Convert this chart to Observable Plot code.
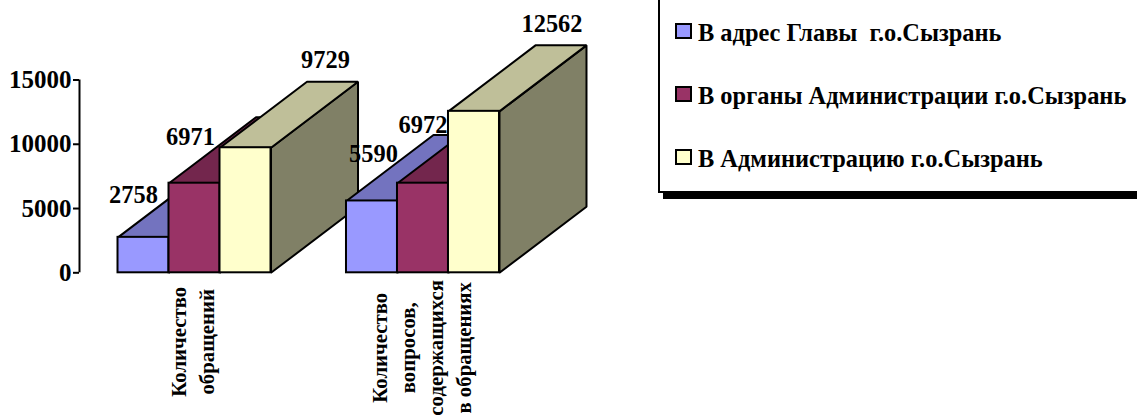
<!DOCTYPE html>
<html lang="ru">
<head>
<meta charset="utf-8">
<script src="https://cdn.jsdelivr.net/npm/d3@7"></script>
<script src="https://cdn.jsdelivr.net/npm/@observablehq/plot@0.6"></script>
<style>
  html, body { margin: 0; padding: 0; background: #fff; overflow: hidden; }
  #wrap { position: relative; width: 1137px; height: 418px; overflow: hidden; font-family: "Liberation Serif", serif; font-weight: bold; color: #000; }
  #wrap svg { display: block; }
  .frame { position: absolute; left: 658px; top: -10px; width: 500px; height: 199px; border: 2px solid #000; background: #fff; box-shadow: 5px 6px 0 #000; }
  .sw { position: absolute; left: 675px; width: 13px; height: 12px; border: 2px solid #000; }
  .lt { position: absolute; left: 698px; font-size: 24.4px; line-height: 28px; white-space: pre; }
</style>
</head>
<body>
<div id="wrap"></div>
<script>
const categories = ["Количество\nобращений", "Количество\nвопросов,\nсодержащихся\nв обращениях"];
const seriesNames = ["В адрес Главы  г.о.Сызрань", "В органы Администрации г.о.Сызрань", "В Администрацию г.о.Сызрань"];
const toGlava = [2758, 5590];
const toOrgans = [6971, 6972];
const toAdmin = [9729, 12562];
const yTicks = [0, 5000, 10000, 15000];

// styling and layout, kept apart from the values
const frontColors = ["#9999FF", "#993366", "#FFFFCC"];
const topColors = ["#7373BF", "#73264D", "#BFBF99"];
const sideColors = ["#4C4C80", "#4D1A33", "#808066"];
const groupStart = [0.755, 5.235];   // in bar widths from the axis
const depthX = 1.706;                // in bar widths
const depthY = 5135;                 // in value units
const labelShift = [
  [[-10, -42], [1.5, -47]],
  [[-4, -46], [0, -58]],
  [[80, -88], [78, -87]]
];

const series = [toGlava, toOrgans, toAdmin];
const marks = [];
const face = (pts, fill) => Plot.line(pts, {
  x: "x", y: "y", curve: "linear-closed", fill, stroke: "#000", strokeWidth: 2, strokeLinejoin: "miter"
});

categories.forEach((_, g) => {
  series.forEach((vals, s) => {
    const x0 = groupStart[g] + s, x1 = x0 + 1, v = vals[g];
    marks.push(face([{x: x1, y: 0}, {x: x1 + depthX, y: depthY}, {x: x1 + depthX, y: v + depthY}, {x: x1, y: v}], sideColors[s]));
    marks.push(face([{x: x0, y: v}, {x: x1, y: v}, {x: x1 + depthX, y: v + depthY}, {x: x0 + depthX, y: v + depthY}], topColors[s]));
    marks.push(Plot.rect([{x1: x0, x2: x1, y1: 0, y2: v}], {
      x1: "x1", x2: "x2", y1: "y1", y2: "y2", fill: frontColors[s], stroke: "#000", strokeWidth: 2
    }));
  });
});

series.forEach((vals, s) => {
  vals.forEach((v, g) => {
    const [dx, dy] = labelShift[s][g];
    marks.push(Plot.text([v], {
      x: () => groupStart[g] + s + 0.5, y: d => d, text: d => String(d),
      dx, dy, fontSize: 24.4, fontWeight: "bold", fontFamily: "Liberation Serif", fill: "#000", textAnchor: "middle"
    }));
  });
});

categories.forEach((c, g) => {
  marks.push(Plot.text([c], {
    x: () => groupStart[g] + 1.5, y: () => 0, text: d => d,
    dx: -3, dy: g === 0 ? 69 : 75, rotate: -90, lineHeight: 1.34, lineAnchor: "middle", textAnchor: "middle",
    fontSize: 20.8, fontWeight: "bold", fontFamily: "Liberation Serif", fill: "#000"
  }));
});

marks.push(Plot.ruleX([0], {y1: 0, y2: 15000, stroke: "#000", strokeWidth: 2}));
marks.push(Plot.axisY({
  ticks: yTicks, tickSize: 6, tickPadding: 2, tickFormat: d => String(d), label: null,
  fontSize: 25, fontWeight: "bold", fontFamily: "Liberation Serif", color: "#000", strokeWidth: 2, strokeOpacity: 1
}));

const chart = Plot.plot({
  width: 1137, height: 418,
  marginLeft: 79, marginRight: 0, marginTop: 0, marginBottom: 145.7,
  x: {domain: [0, (1137 - 79) / 51], axis: null},
  y: {domain: [0, 272.3 / 192.8 * 15000]},
  style: {background: "transparent", overflow: "visible"},
  marks
});

const wrap = document.getElementById("wrap");
wrap.appendChild(chart);

const frame = document.createElement("div");
frame.className = "frame";
wrap.appendChild(frame);
const swatchTop = [23, 86, 149];
const textTop = [19, 82, 145];
seriesNames.forEach((name, i) => {
  const sw = document.createElement("div");
  sw.className = "sw";
  sw.style.top = swatchTop[i] + "px";
  sw.style.background = frontColors[i];
  wrap.appendChild(sw);
  const t = document.createElement("div");
  t.className = "lt";
  t.style.top = textTop[i] + "px";
  t.textContent = name;
  wrap.appendChild(t);
});
</script>
</body>
</html>
